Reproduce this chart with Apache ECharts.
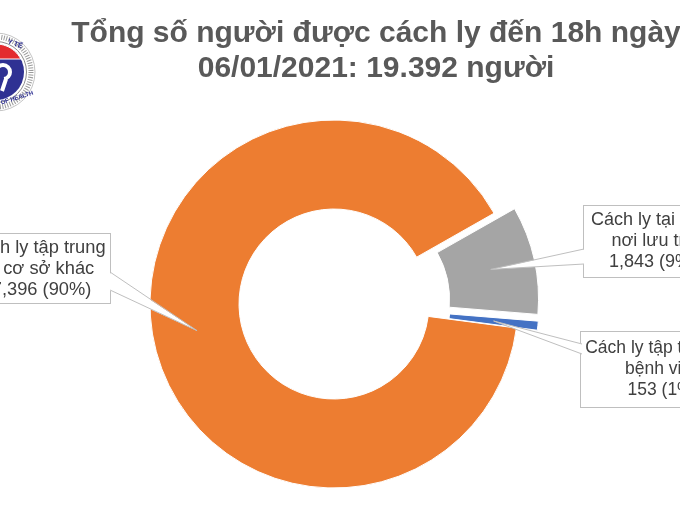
<!DOCTYPE html>
<html>
<head>
<meta charset="utf-8">
<script src="https://cdn.jsdelivr.net/npm/echarts@6/dist/echarts.min.js"></script>
<style>
  html, body { margin: 0; padding: 0; background: #fff; }
  #chart { width: 680px; height: 510px; }
</style>
</head>
<body>
<div id="chart"></div>
<script>
// Isolation categories, counts and the shares printed in the callouts
const categories = ['Cách ly tập trung\ntại cơ sở khác', 'Cách ly tại nhà,\nnơi lưu trú', 'Cách ly tập trung tại\nbệnh viện'];
const counts = [17396, 1843, 153];
const shareLabels = ['90%', '9%', '1%'];
const exploded = [false, true, true];
const sliceColors = ['#ED7D31', '#A5A5A5', '#4472C4'];

const FONT = "'Liberation Sans', Arial, sans-serif";
const CENTER = [334, 304];
const RADIUS = [95, 184];
const EXPLODE = 21;
const CALLOUT_BORDER = '#BFBFBF';

// Callout boxes: centre x of the box, top y, text size and width, the box edge
// facing the ring, and the two points on that edge where the pointer starts
const callouts = [
  { cx: 36.5, top: 234, fontSize: 18.3, lineHeight: 21, width: 139, padding: [3, 4], edgeX: 110, inward: -1, base: [272, 290] },
  { cx: 653,  top: 206, fontSize: 18,   lineHeight: 21, width: 126, padding: [4, 6], edgeX: 584, inward: 1,  base: [249, 264] },
  { cx: 663,  top: 332, fontSize: 17.5, lineHeight: 21, width: 156, padding: [6, 4], edgeX: 582, inward: 1,  base: [344, 354] }
];

const chart = echarts.init(document.getElementById('chart'), null, { renderer: 'canvas' });

// Ministry emblem in the top-left corner
function emblem() {
  const cx = -4, cy = 72, r = 28;
  const half = Math.asin(13 / r);
  const startA = Math.PI + half, endA = 2 * Math.PI - half;
  const cap = [];
  for (let k = 0; k <= 24; k++) {
    const a = startA + (endA - startA) * k / 24;
    cap.push([cx + r * Math.cos(a), cy + r * Math.sin(a)]);
  }
  return [
    { id: 'e0', type: 'circle', shape: { cx, cy, r: 39 }, style: { fill: '#fff', stroke: '#c4c4c4', lineWidth: 1 }, silent: true },
    { id: 'e1', type: 'circle', shape: { cx, cy, r: 35 }, style: { fill: 'none', stroke: '#9b9b9b', lineWidth: 5, lineDash: [1, 1.5] }, silent: true },
    { id: 'e2', type: 'circle', shape: { cx, cy, r: 30.5 }, style: { fill: '#fff', stroke: '#8c8c8c', lineWidth: 1 }, silent: true },
    { id: 'e3', type: 'circle', shape: { cx, cy, r: r }, style: { fill: '#2f3193' }, silent: true },
    { id: 'e4', type: 'polygon', shape: { points: cap }, style: { fill: '#e32b2f', stroke: '#fff', lineWidth: 1 }, silent: true },
    { id: 'e5', type: 'arc', shape: { cx: 3, cy: 72, r: 7, startAngle: Math.PI, endAngle: Math.PI * 0.45, clockwise: true }, style: { stroke: '#fff', lineWidth: 4, fill: 'none' }, silent: true },
    { id: 'e6', type: 'line', shape: { x1: 6, y1: 79, x2: 2, y2: 91 }, style: { stroke: '#fff', lineWidth: 4 }, silent: true },
    { id: 'e7', type: 'text', x: 9, y: 38, rotation: -0.35, style: { text: 'Y TẾ', fill: '#2f3193', font: 'bold 7px ' + FONT }, silent: true },
    { id: 'e8', type: 'text', x: 0, y: 100, rotation: 0.3, style: { text: 'OF HEALTH', fill: '#2f3193', font: 'bold 6px ' + FONT }, silent: true }
  ];
}

const ringData = categories.map((name, i) => ({
  name: name,
  value: counts[i],
  selected: exploded[i],
  itemStyle: { color: sliceColors[i] }
}));

// identical, invisible ring that only carries the callout texts
const calloutData = categories.map((name, i) => ({
  name: name,
  value: counts[i],
  label: {
    width: callouts[i].width,
    padding: callouts[i].padding,
    fontSize: callouts[i].fontSize,
    lineHeight: callouts[i].lineHeight
  }
}));

const option = {
  backgroundColor: '#ffffff',
  animation: false,
  title: {
    text: 'Tổng số người được cách ly đến 18h ngày\n06/01/2021: 19.392 người',
    left: 376,
    top: 0,
    textAlign: 'center',
    padding: [16, 0, 0, 0],
    textStyle: { fontSize: 30, fontWeight: 'bold', color: '#595959', lineHeight: 35, fontFamily: FONT }
  },
  graphic: emblem(),
  series: [{
    type: 'pie',
    center: CENTER,
    radius: RADIUS,
    startAngle: -7.5,
    clockwise: true,
    selectedMode: 'multiple',
    selectedOffset: EXPLODE,
    silent: true,
    emphasis: { disabled: true },
    itemStyle: { borderColor: '#ffffff', borderWidth: 1 },
    label: { show: false },
    labelLine: { show: false },
    data: ringData,
    z: 2
  }, {
    type: 'pie',
    center: CENTER,
    radius: RADIUS,
    startAngle: -7.5,
    clockwise: true,
    silent: true,
    avoidLabelOverlap: false,
    emphasis: { disabled: true },
    itemStyle: { color: 'rgba(0,0,0,0)', borderWidth: 0 },
    label: {
      show: true,
      position: 'outside',
      overflow: 'none',
      formatter: p => p.name + '\n' + p.value.toLocaleString('en-US') + ' (' + shareLabels[p.dataIndex] + ')',
      color: '#404040',
      fontSize: 18,
      lineHeight: 21,
      fontFamily: FONT,
      backgroundColor: '#ffffff',
      borderColor: CALLOUT_BORDER,
      borderWidth: 1
    },
    labelLine: { show: false },
    labelLayout: function (params) {
      const c = callouts[params.dataIndex];
      return { x: c.cx, y: c.top, align: 'center', verticalAlign: 'top' };
    },
    data: calloutData,
    z: 3
  }]
};

chart.setOption(option);

// Callout pointers: run from the box edge to the middle of each slice's ring,
// using the sector geometry the pie layout produced
function pointers() {
  const data = chart.getModel().getSeriesByIndex(0).getData();
  const els = [];
  counts.forEach((_, i) => {
    const L = data.getItemLayout(i);
    const mid = (L.startAngle + L.endAngle) / 2;
    const dist = (L.r + L.r0) / 2 + (exploded[i] ? EXPLODE : 0);
    const tip = [L.cx + Math.cos(mid) * dist, L.cy + Math.sin(mid) * dist];
    const c = callouts[i];
    const ex = c.edgeX + c.inward * 1.5;
    els.push({
      id: 'fill' + i, type: 'polygon', z: 20, silent: true,
      shape: { points: [[ex, c.base[0]], tip, [ex, c.base[1]]] },
      style: { fill: '#ffffff' }
    });
    els.push({
      id: 'edge' + i, type: 'polyline', z: 21, silent: true,
      shape: { points: [[c.edgeX, c.base[0]], tip, [c.edgeX, c.base[1]]] },
      style: { stroke: CALLOUT_BORDER, lineWidth: 1, fill: null }
    });
  });
  return els;
}

chart.setOption({ graphic: emblem().concat(pointers()) });
</script>
</body>
</html>
